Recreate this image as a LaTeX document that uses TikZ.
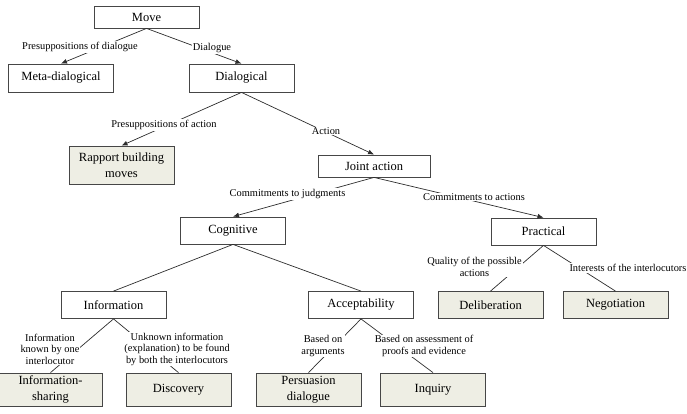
\documentclass[tikz,border=0pt]{standalone}
\usepackage{fontspec}
\setmainfont{Liberation Serif}
\usepackage{xcolor}
\definecolor{boxline}{RGB}{70,70,70}
\definecolor{leaffill}{RGB}{238,238,228}
\definecolor{edgeline}{RGB}{45,45,45}
\usepackage{tikz}
\usetikzlibrary{arrows.meta}

\begin{document}
\begin{tikzpicture}[x=1pt, y=-1pt,
  box/.style={draw=boxline, line width=0.8pt, inner sep=0pt, minimum width=105pt,
    minimum height=27pt, align=center, font=\fontsize{12.5}{15.5}\selectfont},
  leaf/.style={box, fill=leaffill},
  link/.style={draw=edgeline, line width=0.7pt},
  arr/.style={link, -{Latex[length=6pt,width=5pt]}},
  lbl/.style={fill=white, inner sep=0.8pt, align=center, font=\fontsize{10.4}{11.5}\selectfont}]
  \useasboundingbox (0,0) rectangle (687,413);

  % Upper levels
  \node[box, minimum height=22pt] (move) at (146.5,17) {Move};
  \node[box, minimum height=28pt] (meta) at (61,78) {Meta-dialogical};
  \node[box, minimum height=28pt] (dialog) at (241.5,78) {Dialogical};
  \node[leaf, minimum height=38pt] (rapport) at (121.5,165) {Rapport building\\moves};
  \node[box, minimum width=112pt, minimum height=22pt] (joint) at (374,166) {Joint action};
  \node[box] (cognitive) at (233,230.5) {Cognitive};
  \node[box] (practical) at (543.5,231.5) {Practical};
  % Middle level
  \node[box] (information) at (113.5,305) {Information};
  \node[box] (accept) at (361,305) {Acceptability};
  \node[leaf] (deliberation) at (490.5,305) {Deliberation};
  \node[leaf] (negotiation) at (615.5,305) {Negotiation};
  % Dialogue types
  \node[leaf, minimum width=103pt, minimum height=33pt] (infoshare) at (50.5,389.5) {Information-\\sharing};
  \node[leaf, minimum height=33pt] (discovery) at (178.5,389.5) {Discovery};
  \node[leaf, minimum height=33pt] (persuasion) at (308.5,389.5) {Persuasion\\dialogue};
  \node[leaf, minimum height=33pt] (inquiry) at (433,389.5) {Inquiry};

  % Connectors
  \foreach \a/\b in {move/meta, move/dialog, dialog/rapport, dialog/joint,
    joint/cognitive, joint/practical}
    \draw[arr] (\a.south) -- (\b.north);
  \foreach \a/\b in {cognitive/information, cognitive/accept, information/infoshare,
    information/discovery, accept/persuasion, accept/inquiry,
    practical/deliberation, practical/negotiation}
    \draw[link] (\a.south) -- (\b.north);

  % Connector labels
  \foreach \n/\x/\y/\t in {
    presdial/80/47/{Presuppositions of dialogue},
    dialogue/212/48/{Dialogue},
    presact/164/125/{Presuppositions of action},
    action/326/131/{Action},
    judg/287.5/194/{Commitments to judgments},
    acts/474/197/{Commitments to actions},
    quality/474.5/267/{Quality of the possible\\actions},
    interests/628/268/{Interests of the interlocutors},
    known/50/349/{Information\\known by one\\interlocutor},
    unknown/177/349/{Unknown information\\(explanation) to be found\\by both the interlocutors},
    args/323/346/{Based on\\arguments},
    proofs/424/346/{Based on assessment of\\proofs and evidence}} {
    \node[lbl] (\n) at (\x,\y) {\t};
  }
\end{tikzpicture}
\end{document}
